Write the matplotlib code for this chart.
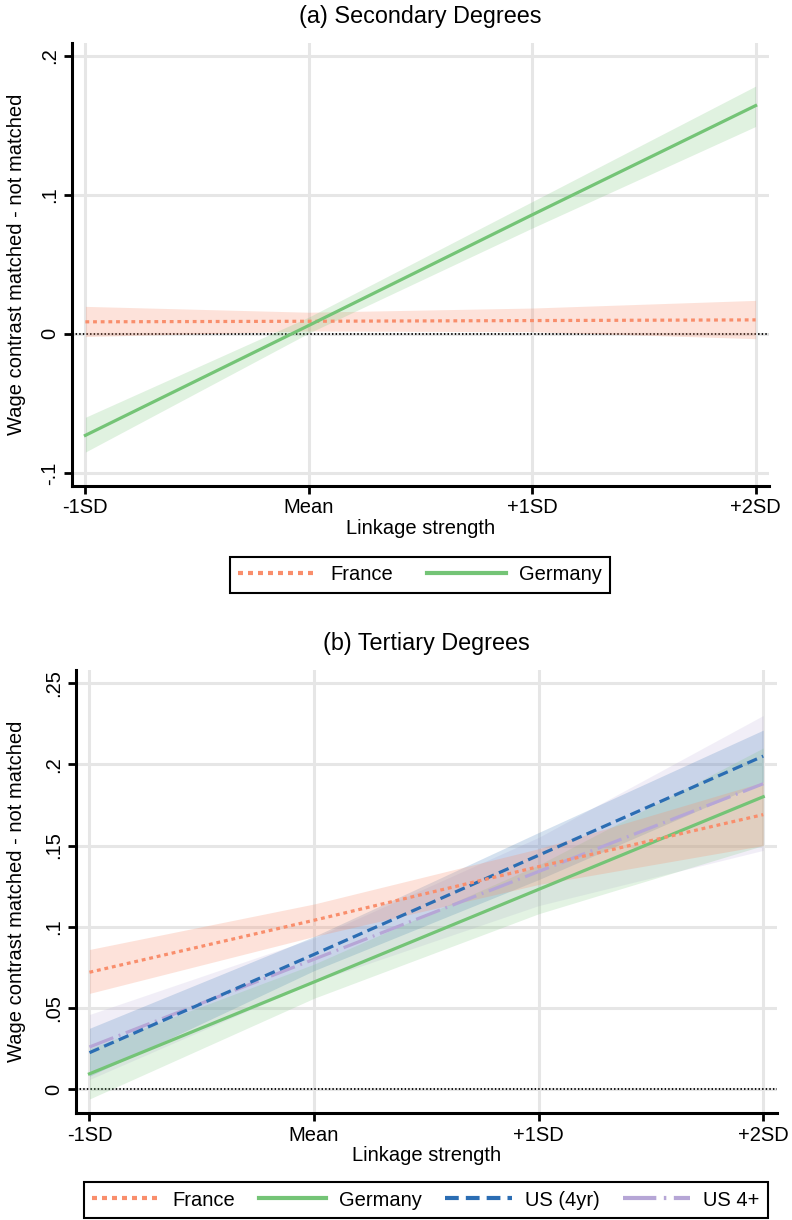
import matplotlib
matplotlib.use("Agg")
import matplotlib.pyplot as plt
from matplotlib.lines import Line2D

plt.rcParams['font.family'] = ['Liberation Sans', 'DejaVu Sans']

# linkage strength positions (-1SD, Mean, +1SD, +2SD)
x_pos = [-1, 0, 1, 2]
x_labels = ["-1SD", "Mean", "+1SD", "+2SD"]

# (a) secondary degrees
france_sec = [0.0086, 0.0090, 0.0095, 0.0100]
france_sec_lo = [-0.0020, 0.0020, 0.0015, -0.0035]
france_sec_hi = [0.0197, 0.0155, 0.0185, 0.0240]
germany_sec = [-0.0730, 0.0060, 0.0855, 0.1640]
germany_sec_lo = [-0.0850, 0.0005, 0.0760, 0.1490]
germany_sec_hi = [-0.0600, 0.0120, 0.0950, 0.1780]

# (b) tertiary degrees
france_ter = [0.072, 0.104, 0.137, 0.169]
france_ter_lo = [0.059, 0.094, 0.126, 0.150]
france_ter_hi = [0.086, 0.114, 0.148, 0.189]
germany_ter = [0.0095, 0.066, 0.123, 0.180]
germany_ter_lo = [-0.006, 0.056, 0.108, 0.150]
germany_ter_hi = [0.025, 0.077, 0.138, 0.210]
us4_ter = [0.0225, 0.083, 0.144, 0.205]
us4_ter_lo = [0.008, 0.073, 0.129, 0.189]
us4_ter_hi = [0.0375, 0.094, 0.158, 0.221]
us4p_ter = [0.026, 0.080, 0.134, 0.188]
us4p_ter_lo = [0.006, 0.066, 0.113, 0.147]
us4p_ter_hi = [0.046, 0.093, 0.155, 0.230]

sec_yticks = [-0.1, 0, 0.1, 0.2]
sec_ylabels = ["-.1", "0", ".1", ".2"]
ter_yticks = [0, 0.05, 0.1, 0.15, 0.2, 0.25]
ter_ylabels = ["0", ".05", ".1", ".15", ".2", ".25"]

C_FR = "#f98e6c"
C_DE = "#74c476"
C_US4 = "#2b6db3"
C_US4P = "#b6a6d6"

LS_FR = (0, (1.2, 1.2))
LS_DE = "-"
LS_US4 = (0, (3.3, 1.7))
LS_US4P = (0, (8, 1.8, 0.6, 1.8))
LW = 2.3
FS = 14.5


def style_axes(ax, yticks, ylabels, title, ylim):
    ax.set_xlim(-1.06, 2.06)
    ax.set_ylim(*ylim)
    ax.set_xticks(x_pos)
    ax.set_xticklabels(x_labels, fontsize=FS)
    ax.set_yticks(yticks)
    ax.set_yticklabels(ylabels, fontsize=FS, rotation=90, va='center')
    ax.grid(True, color="#e6e6e6", linewidth=2.2, zorder=0)
    ax.set_axisbelow(True)
    for s in ['top', 'right']:
        ax.spines[s].set_visible(False)
    for s in ['left', 'bottom']:
        ax.spines[s].set_linewidth(2.2)
    ax.tick_params(axis='both', direction='out', length=6, width=2, pad=3)
    ax.axhline(0, color='black', linewidth=1.3, linestyle=(0, (0.8, 1.2)), zorder=1)
    ax.set_xlabel("Linkage strength", fontsize=FS)
    ax.xaxis.set_label_coords(0.5, -0.074)
    ax.set_ylabel("Wage contrast matched - not matched", fontsize=FS)
    ax.text(0.5, 1.06, title, transform=ax.transAxes, ha='center', va='center',
            fontsize=16.8)


def series(ax, y, lo, hi, color, ls, alpha):
    ax.fill_between(x_pos, lo, hi, color=color, alpha=alpha, linewidth=0, zorder=2)
    ax.plot(x_pos, y, color=color, linestyle=ls, linewidth=LW, zorder=3)


fig = plt.figure(figsize=(7.92, 12.2), dpi=100)

# top panel
ax1 = fig.add_axes([72 / 792, 1 - 486 / 1220, 697 / 792, 443 / 1220])
series(ax1, france_sec, france_sec_lo, france_sec_hi, C_FR, LS_FR, 0.25)
series(ax1, germany_sec, germany_sec_lo, germany_sec_hi, C_DE, LS_DE, 0.22)
style_axes(ax1, sec_yticks, sec_ylabels, "(a) Secondary Degrees", (-0.1094, 0.209))
ax1.yaxis.set_label_coords(-0.066, 0.5)

# bottom panel
ax2 = fig.add_axes([76 / 792, 1 - 1113.3 / 1220, 700.7 / 792, 443.3 / 1220])
series(ax2, us4p_ter, us4p_ter_lo, us4p_ter_hi, C_US4P, LS_US4P, 0.18)
series(ax2, us4_ter, us4_ter_lo, us4_ter_hi, C_US4, LS_US4, 0.2)
series(ax2, germany_ter, germany_ter_lo, germany_ter_hi, C_DE, LS_DE, 0.2)
series(ax2, france_ter, france_ter_lo, france_ter_hi, C_FR, LS_FR, 0.25)
style_axes(ax2, ter_yticks, ter_ylabels, "(b) Tertiary Degrees", (-0.0148, 0.258))
ax2.yaxis.set_label_coords(-0.071, 0.5)

h_fr = Line2D([], [], color=C_FR, linestyle=LS_FR, linewidth=3)
h_de = Line2D([], [], color=C_DE, linestyle=LS_DE, linewidth=3)
h_us4 = Line2D([], [], color=C_US4, linestyle=LS_US4, linewidth=3)
h_us4p = Line2D([], [], color=C_US4P, linestyle=LS_US4P, linewidth=3)

leg1 = fig.legend([h_fr, h_de], ["France", "Germany"], loc='center',
                  bbox_to_anchor=(420 / 792, 1 - 575 / 1220), ncol=2, fontsize=FS,
                  frameon=True, fancybox=False, framealpha=1, edgecolor='black',
                  handlelength=3.9, handletextpad=0.67, columnspacing=1.7,
                  borderpad=0.4)
leg1.get_frame().set_linewidth(1.5)

leg2 = fig.legend([h_fr, h_de, h_us4, h_us4p], ["France", "Germany", "US (4yr)", "US 4+"],
                  loc='center', bbox_to_anchor=(426 / 792, 1 - 1200 / 1220), ncol=4,
                  fontsize=FS, frameon=True, fancybox=False, framealpha=1,
                  edgecolor='black', handlelength=3.33, handletextpad=0.66,
                  columnspacing=1.14, borderpad=0.4)
leg2.get_frame().set_linewidth(1.5)

fig.savefig("out.png", dpi=100)
